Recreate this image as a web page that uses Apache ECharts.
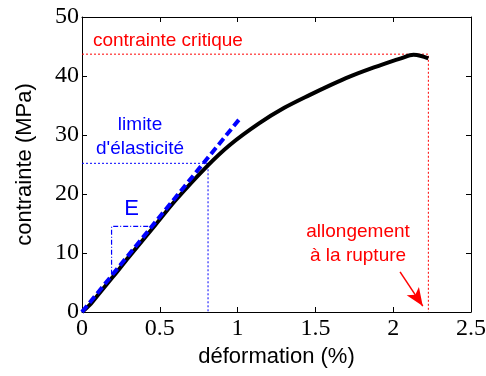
<!DOCTYPE html>
<html lang="fr">
<head>
    <meta charset="UTF-8">
    <title>contrainte - déformation</title>
    <script src="https://cdn.jsdelivr.net/npm/echarts@6/dist/echarts.min.js"></script>
</head>
<body style="margin:0">
<div id="main" style="width:486px; height:376px"></div>
<script type="text/javascript">
    // courbe contrainte / déformation
    var deformation = [0, 0.05, 0.10, 0.20, 0.30, 0.47, 0.60, 0.80, 0.95, 1.14, 1.30, 1.465, 1.60, 1.72, 1.85, 1.98, 2.05, 2.13, 2.18, 2.226];
    var contrainte  = [0, 1.2, 2.8, 6.0, 9.3, 14.7, 18.9, 24.6, 28.3, 32.0, 34.6, 36.8, 38.5, 39.9, 41.2, 42.4, 43.0, 43.6, 43.4, 43.0];

    // droite du module E
    var droiteE = [[0, 0], [1.015, 32.8]];
    // triangle E
    var triangleE = [[0.19, 6.3], [0.19, 14.5], [0.47, 14.5]];
    // limite d'élasticité
    var limiteElast = [[0, 25.2], [0.81, 25.2], [0.81, 0]];
    // contrainte critique / allongement à la rupture
    var critique = [[0, 43.7], [2.226, 43.7], [2.226, 0]];
    var fleche = [[2.044, 6.8], [2.19, 1.0]];

    var chartDom = document.getElementById('main');
    var myChart = echarts.init(chartDom);

    var serif = 'Liberation Serif';
    var sans = 'Liberation Sans';

    function pts(xs, ys) {
        return xs.map(function (x, i) { return [x, ys[i]]; });
    }

    var option = {
        animation: false,
        grid: {left: 82, right: 15, top: 17, bottom: 64, outerBoundsMode: 'none', containLabel: false},
        xAxis: [{
            type: 'value', min: 0, max: 2.5, interval: 0.5,
            name: 'déformation (%)', nameLocation: 'middle', nameGap: 28,
            nameTextStyle: {fontFamily: sans, fontSize: 22, color: '#000'},
            axisLine: {onZero: false, lineStyle: {color: '#000'}},
            axisTick: {inside: true, length: 5, lineStyle: {color: '#000'}},
            axisLabel: {fontFamily: serif, fontSize: 24, color: '#000', margin: 5,
                formatter: function (v) { return String(v); }},
            splitLine: {show: false}
        }, {
            type: 'value', min: 0, max: 2.5, interval: 0.5, position: 'top',
            axisLine: {onZero: false, lineStyle: {color: '#000'}},
            axisTick: {inside: true, length: 5, lineStyle: {color: '#000'}},
            axisLabel: {show: false}, splitLine: {show: false}
        }],
        yAxis: [{
            type: 'value', min: 0, max: 50, interval: 10,
            name: 'contrainte (MPa)', nameLocation: 'middle', nameGap: 46,
            nameTextStyle: {fontFamily: sans, fontSize: 22, color: '#000'},
            axisLine: {show: true, onZero: false, lineStyle: {color: '#000'}},
            axisTick: {show: true, inside: true, length: 5, lineStyle: {color: '#000'}},
            axisLabel: {fontFamily: serif, fontSize: 24, color: '#000', margin: 3},
            splitLine: {show: false}
        }, {
            type: 'value', min: 0, max: 50, interval: 10, position: 'right',
            axisLine: {show: true, onZero: false, lineStyle: {color: '#000'}},
            axisTick: {show: true, inside: true, length: 5, lineStyle: {color: '#000'}},
            axisLabel: {show: false}, splitLine: {show: false}
        }],
        series: [
            {
                type: 'line', data: critique, symbol: 'none',
                lineStyle: {color: '#ff0000', width: 1, type: [2, 2]},
                markLine: {
                    silent: true, symbol: ['none', 'arrow'], symbolSize: [11, 18],
                    label: {show: false},
                    lineStyle: {color: '#ff0000', width: 1.5, type: 'solid'},
                    data: [[{coord: fleche[0]}, {coord: fleche[1]}]]
                }
            },
            {
                type: 'line', data: limiteElast, symbol: 'none',
                lineStyle: {color: '#0000ff', width: 1, type: [2, 2]}
            },
            {
                type: 'line', data: triangleE, symbol: 'none',
                lineStyle: {color: '#0000ff', width: 1.2, type: [5, 2, 1, 2]}
            },
            {
                type: 'line', data: pts(deformation, contrainte), symbol: 'none', smooth: 0.3,
                lineStyle: {color: '#000', width: 4}
            },
            {
                type: 'line', data: droiteE, symbol: 'none',
                lineStyle: {color: '#0000ff', width: 4, type: [8, 4]}
            }
        ]
    };

    myChart.setOption(option);

    // annotations placées en coordonnées des données
    function txt(x, y, lines, color, size, align) {
        var p = myChart.convertToPixel({gridIndex: 0}, [x, y]);
        return {
            type: 'text', x: p[0], y: p[1],
            style: {text: lines, fill: color, font: size + 'px ' + sans,
                align: align || 'center', verticalAlign: 'middle', lineHeight: 24}
        };
    }

    myChart.setOption({
        graphic: [
            txt(0.07, 45.9, 'contrainte critique', '#ff0000', 19, 'left'),
            txt(0.373, 29.7, 'limite\nd\'élasticité', '#0000ff', 19),
            txt(0.318, 17.5, 'E', '#0000ff', 22),
            txt(1.774, 11.5, 'allongement\nà la rupture', '#ff0000', 19)
        ]
    });
</script>
</body>
</html>
